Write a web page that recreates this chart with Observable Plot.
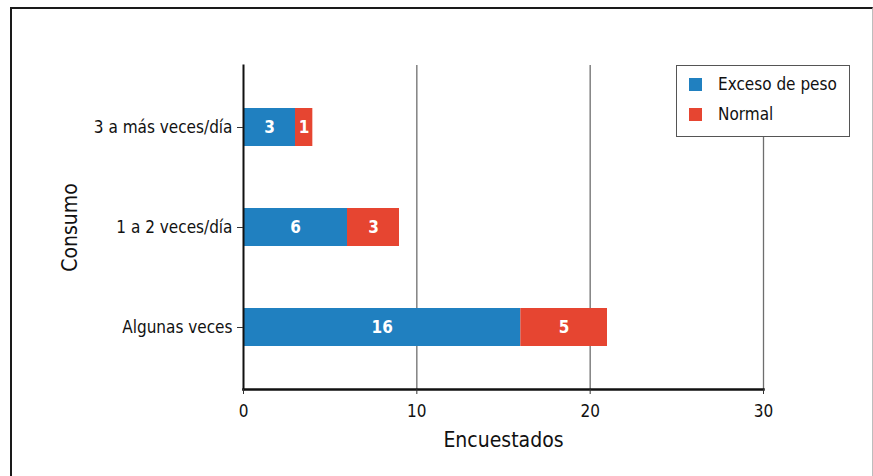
<!DOCTYPE html>
<html>
<head>
<meta charset="utf-8">
<script src="https://cdn.jsdelivr.net/npm/d3@7"></script>
<script src="https://cdn.jsdelivr.net/npm/@observablehq/plot@0.6"></script>
<style>
  html, body { margin: 0; padding: 0; background: #fff; }
  #wrap { position: relative; width: 873px; height: 476px; overflow: hidden;
    font-family: "Liberation Sans Narrow", "DejaVu Sans Condensed", "Roboto", sans-serif; }
  #border { position: absolute; left: 10px; top: 7px; width: 860px; height: 480px;
    border-left: 2px solid #1a1a1a; border-top: 2px solid #1a1a1a; border-right: 1px solid #bdbdbd; }
  #chart { position: absolute; left: 0; top: 0; }
  #legend { position: absolute; left: 676px; top: 65px; width: 174px; height: 72px;
    border: 1px solid #555; background: #fff; box-sizing: border-box; }
  .item { position: absolute; left: 12px; display: flex; align-items: center; font-size: 17px; color: #111; }
  .sw { width: 13px; height: 13px; margin-right: 16px; }
</style>
</head>
<body>
<div id="wrap">
  <div id="border"></div>
  <div id="chart"></div>
  <div id="legend"></div>
</div>
<script>
const categories = ["3 a más veces/día", "1 a 2 veces/día", "Algunas veces"];
const series = ["Exceso de peso", "Normal"];
const colors = ["#2080c0", "#e64531"];
const excesoDePeso = [3, 6, 16];
const normal = [1, 3, 5];
const xTicks = [0, 10, 20, 30];

const values = [excesoDePeso, normal];
const data = [];
series.forEach((s, si) => categories.forEach((c, ci) => data.push({cat: c, serie: s, value: values[si][ci]})));

const font = '"Liberation Sans Narrow", "DejaVu Sans Condensed", "Roboto", sans-serif';

const chart = Plot.plot({
  width: 873,
  height: 476,
  marginLeft: 243,
  marginRight: 110,
  marginTop: 65,
  marginBottom: 87,
  style: {fontFamily: font, background: "transparent", color: "#111"},
  x: {domain: [0, 30], ticks: xTicks},
  y: {domain: categories, paddingInner: 0.62, paddingOuter: 0.43},
  color: {domain: series, range: colors},
  marks: [
    Plot.ruleX(xTicks.slice(1), {stroke: "#6e6e6e", strokeWidth: 1.3}),
    Plot.barX(data, Plot.stackX({x: "value", y: "cat", fill: "serie"})),
    Plot.text(data, Plot.stackX({x: "value", y: "cat", z: "serie", text: d => String(d.value),
      fill: "white", fontWeight: "bold", fontSize: 17})),
    Plot.frame({anchor: "left", stroke: "#111", strokeWidth: 2}),
    Plot.frame({anchor: "bottom", stroke: "#111", strokeWidth: 2.5}),
    Plot.axisX({ticks: xTicks, tickSize: 5, tickPadding: 10, fontSize: 17, label: null, stroke: "#333"}),
    Plot.axisY({tickSize: 6, tickPadding: 5, fontSize: 17, label: null, stroke: "#333"}),
    Plot.text(["Encuestados"], {frameAnchor: "bottom", dy: 57, fontSize: 21, text: d => d, fill: "#111"}),
    Plot.text(["Consumo"], {frameAnchor: "left", textAnchor: "middle", dx: -173, rotate: -90, fontSize: 21, text: d => d, fill: "#111"})
  ]
});
document.getElementById("chart").appendChild(chart);

const legend = document.getElementById("legend");
series.forEach((s, i) => {
  const item = document.createElement("div");
  item.className = "item";
  item.style.top = (i === 0 ? 8 : 38) + "px";
  const sw = document.createElement("span");
  sw.className = "sw";
  sw.style.background = colors[i];
  const t = document.createElement("span");
  t.textContent = s;
  item.appendChild(sw);
  item.appendChild(t);
  legend.appendChild(item);
});
</script>
</body>
</html>
